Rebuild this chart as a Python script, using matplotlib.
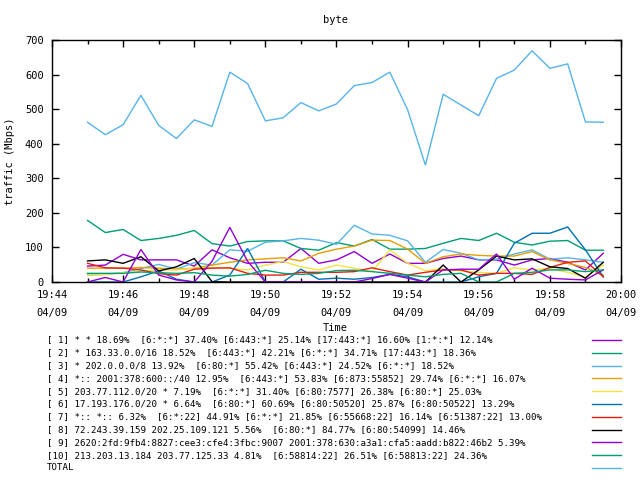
import numpy as np
import matplotlib
matplotlib.use("Agg")
import matplotlib.pyplot as plt
import matplotlib.dates as mdates
import datetime as dt

title = "byte"
ylabel = "traffic (Mbps)"
xlabel = "Time"

start = dt.datetime(2020, 4, 9, 19, 45, 0)
n_points = 30
times = [start + dt.timedelta(seconds=30 * i) for i in range(n_points)]

labels = [
    "[ 1] * * 18.69%  [6:*:*] 37.40% [6:443:*] 25.14% [17:443:*] 16.60% [1:*:*] 12.14%",
    "[ 2] * 163.33.0.0/16 18.52%  [6:443:*] 42.21% [6:*:*] 34.71% [17:443:*] 18.36%",
    "[ 3] * 202.0.0.0/8 13.92%  [6:80:*] 55.42% [6:443:*] 24.52% [6:*:*] 18.52%",
    "[ 4] *:: 2001:378:600::/40 12.95%  [6:443:*] 53.83% [6:873:55852] 29.74% [6:*:*] 16.07%",
    "[ 5] 203.77.112.0/20 * 7.19%  [6:*:*] 31.40% [6:80:7577] 26.38% [6:80:*] 25.03%",
    "[ 6] 17.193.176.0/20 * 6.64%  [6:80:*] 60.69% [6:80:50520] 25.87% [6:80:50522] 13.29%",
    "[ 7] *:: *:: 6.32%  [6:*:22] 44.91% [6:*:*] 21.85% [6:55668:22] 16.14% [6:51387:22] 13.00%",
    "[ 8] 72.243.39.159 202.25.109.121 5.56%  [6:80:*] 84.77% [6:80:54099] 14.46%",
    "[ 9] 2620:2fd:9fb4:8827:cee3:cfe4:3fbc:9007 2001:378:630:a3a1:cfa5:aadd:b822:46b2 5.39%",
    "[10] 213.203.13.184 203.77.125.33 4.81%  [6:58814:22] 26.51% [6:58813:22] 24.36%",
    "TOTAL",
]

colors = ["#9400D3", "#009E73", "#56B4E9", "#E69F00", "#F0E442",
          "#0072B2", "#E51E10", "#000000", "#9400D3", "#009E73", "#56B4E9"]

s1 = [46, 49, 80, 64, 64, 64, 46, 93, 70, 54, 57, 57, 97, 54, 64, 88,
      54, 81, 54, 54, 68, 75, 64, 64, 49, 64, 68, 57, 35, 83]
s2 = [178, 143, 152, 120, 126, 135, 149, 111, 104, 117, 119, 119, 97, 92, 114, 104,
      123, 95, 95, 97, 112, 126, 120, 141, 115, 107, 118, 120, 92, 92]
s3 = [20, 22, 27, 39, 51, 37, 56, 49, 93, 89, 115, 119, 126, 121, 109, 164,
      139, 135, 119, 57, 94, 83, 64, 66, 81, 93, 66, 70, 64, 57]
s4 = [40, 40, 40, 42, 40, 37, 40, 49, 57, 64, 67, 70, 61, 83, 95, 104,
      121, 120, 95, 54, 73, 81, 77, 75, 75, 88, 64, 54, 42, 20]
s5 = [20, 22, 27, 32, 35, 35, 40, 42, 40, 35, 49, 59, 44, 35, 49, 40,
      30, 93, 54, 33, 38, 32, 28, 25, 41, 35, 39, 28, 14, 49]
s6 = [0, 0, 0, 15, 32, 8, 0, 0, 20, 97, 0, 0, 37, 8, 11, 8,
      13, 22, 15, 0, 0, 0, 15, 25, 112, 141, 141, 159, 93, 15]
s7 = [54, 41, 40, 35, 24, 20, 37, 40, 41, 25, 20, 20, 28, 28, 28, 30,
      41, 30, 20, 28, 35, 35, 20, 25, 25, 22, 42, 57, 61, 15]
s8 = [61, 64, 54, 73, 32, 44, 68, 1, 0, 0, 0, 0, 0, 0, 0, 0,
      0, 0, 0, 0, 49, 0, 35, 75, 64, 67, 44, 39, 11, 57]
s9 = [0, 13, 0, 94, 20, 6, 0, 60, 158, 60, 0, 0, 0, 0, 0, 0,
      10, 22, 11, 0, 35, 37, 37, 81, 8, 40, 11, 8, 6, 35]
s10 = [25, 25, 25, 29, 27, 25, 27, 20, 17, 22, 34, 25, 22, 25, 33, 34,
       30, 25, 20, 15, 22, 25, 0, 0, 25, 28, 35, 35, 30, 35]
total = [462, 426, 455, 540, 453, 415, 469, 450, 607, 574, 466, 475, 519, 495, 515, 568,
         577, 607, 498, 338, 543, 512, 481, 589, 613, 669, 618, 631, 463, 462]

series = [s1, s2, s3, s4, s5, s6, s7, s8, s9, s10, total]

yticks = [0, 100, 200, 300, 400, 500, 600, 700]

plt.rcParams['font.family'] = ['DejaVu Sans Mono', 'DejaVu Sans']
fig = plt.figure(figsize=(6.4, 4.8), dpi=100)
ax = fig.add_axes([52 / 640, 1 - 282 / 480, (621 - 52) / 640, (282 - 40) / 480])

for vals, c in zip(series, colors):
    ax.plot(times, vals, color=c, linewidth=1.0, solid_joinstyle='miter')

ax.set_ylim(0, 700)
ax.set_xlim(dt.datetime(2020, 4, 9, 19, 44), dt.datetime(2020, 4, 9, 20, 0))
ax.set_yticks(yticks)
ax.xaxis.set_major_locator(mdates.MinuteLocator(byminute=range(0, 60, 2)))
ax.xaxis.set_minor_locator(mdates.MinuteLocator())
ax.xaxis.set_major_formatter(mdates.DateFormatter('%H:%M\n%m/%d'))
ax.tick_params(axis='both', which='both', direction='in', top=True, right=True,
               labelsize=7.5, width=1, color='black')
ax.tick_params(axis='both', which='major', length=5, pad=6)
ax.tick_params(axis='x', which='minor', length=3)
for lab in ax.get_xticklabels():
    lab.set_linespacing(1.9)
for sp in ax.spines.values():
    sp.set_linewidth(1)

fig.text(335 / 640, 1 - 20 / 480, title, ha='center', va='center', fontsize=7.5)
fig.text(10 / 640, 1 - 161 / 480, ylabel, ha='center', va='center', rotation=90, fontsize=7.5)
fig.text(335 / 640, 1 - 328 / 480, xlabel, ha='center', va='center', fontsize=7.5)

y0 = 340
dy = 12.8
for i, (lab, c) in enumerate(zip(labels, colors)):
    y = 1 - (y0 + i * dy) / 480
    fig.text(47 / 640, y, lab, ha='left', va='center', fontsize=6.6)
    fig.add_artist(plt.Line2D([592 / 640, 621 / 640], [y, y], color=c, linewidth=1.0,
                              transform=fig.transFigure))

fig.savefig("out.png", dpi=100)
